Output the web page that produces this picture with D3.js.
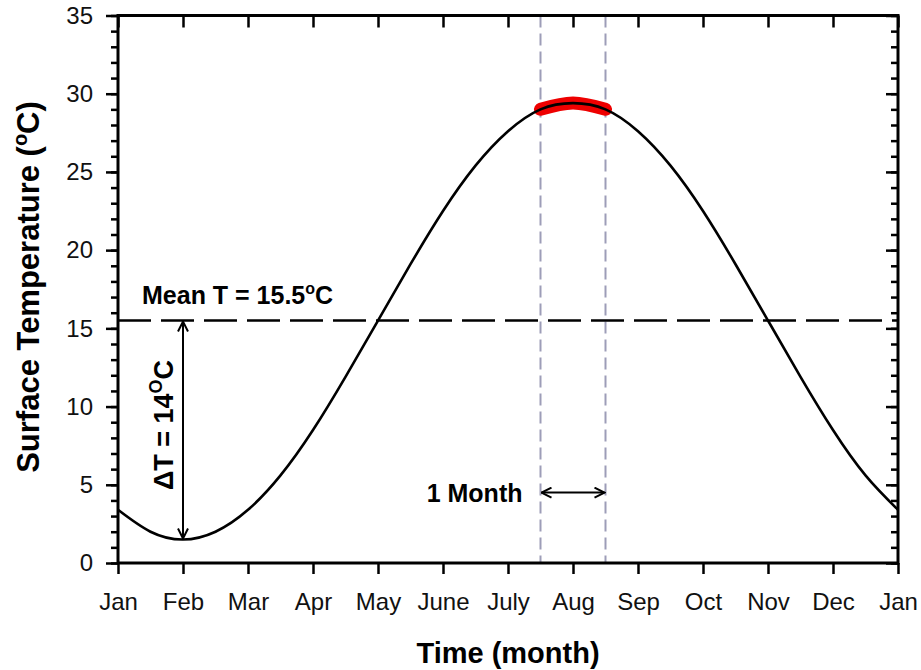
<!DOCTYPE html>
<html>
<head>
<meta charset="utf-8">
<script src="https://cdn.jsdelivr.net/npm/d3@7"></script>
<style>
  html, body { margin: 0; padding: 0; background: #fff; }
  svg { display: block; font-family: "Liberation Sans", Arial, sans-serif; }
</style>
</head>
<body>
<svg id="chart" width="921" height="670"></svg>
<script>
// Month tick labels (Jan at both ends of the year)
const monthLabels = ["Jan", "Feb", "Mar", "Apr", "May", "June", "July", "Aug", "Sep", "Oct", "Nov", "Dec", "Jan"];
// Time in months since 1 Jan, sampled every half month
const timeMonths = [0, 0.5, 1, 1.5, 2, 2.5, 3, 3.5, 4, 4.5, 5, 5.5, 6, 6.5, 7, 7.5, 8, 8.5, 9, 9.5, 10, 10.5, 11, 11.5, 12];
// Surface temperature (°C) at those times
const surfaceTemp = [3.4, 2.0, 1.5, 2.0, 3.4, 5.6, 8.5, 11.9, 15.5, 19.1, 22.5, 25.4, 27.6, 29.0, 29.4, 29.0, 27.6, 25.4, 22.5, 19.1, 15.5, 11.9, 8.5, 5.6, 3.4];
// Y axis tick values
const yTicks = [0, 5, 10, 15, 20, 25, 30, 35];
const yMinorTicks = d3.range(0, 36, 1);
// Annual mean and amplitude below it
const meanTemp = 15.5;
const deltaT = 14;
const minMonth = 1;
// Warmest-month window (mid-July to mid-August)
const windowStart = 6.5;
const windowEnd = 7.5;

const svg = d3.select("#chart");
const plotLeft = 118, plotRight = 898, plotTop = 15.5, plotBottom = 563;

const x = d3.scaleLinear().domain([0, 12]).range([plotLeft, plotRight]);
const y = d3.scaleLinear().domain([0, 35]).range([plotBottom, plotTop]);

const data = timeMonths.map((t, i) => ({ t, v: surfaceTemp[i] }));

// Arrow head marker (open V)
const defs = svg.append("defs");
defs.append("marker")
  .attr("id", "arrow")
  .attr("viewBox", "0 0 12 12")
  .attr("refX", 11).attr("refY", 6)
  .attr("markerWidth", 12).attr("markerHeight", 12)
  .attr("markerUnits", "userSpaceOnUse")
  .attr("orient", "auto-start-reverse")
  .append("path")
  .attr("d", "M1,1 L11,6 L1,11")
  .attr("fill", "none")
  .attr("stroke", "#000")
  .attr("stroke-width", 2);

// Vertical dashed guides marking the one-month window
svg.selectAll("line.guide")
  .data([windowStart, windowEnd])
  .join("line")
  .attr("class", "guide")
  .attr("x1", d => x(d)).attr("x2", d => x(d))
  .attr("y1", y(35)).attr("y2", y(0))
  .attr("stroke", "#9d9db8")
  .attr("stroke-width", 2)
  .attr("stroke-dasharray", "12,6");

// Mean temperature dashed line
svg.append("line")
  .attr("x1", x(0)).attr("x2", x(12))
  .attr("y1", y(meanTemp)).attr("y2", y(meanTemp))
  .attr("stroke", "#000")
  .attr("stroke-width", 2.5)
  .attr("stroke-dasharray", "33,10");

const line = d3.line()
  .x(d => x(d.t))
  .y(d => y(d.v))
  .curve(d3.curveNatural);

// Warmest month highlight
const peak = data.filter(d => d.t >= windowStart && d.t <= windowEnd);
svg.append("path")
  .datum(peak)
  .attr("d", line)
  .attr("fill", "none")
  .attr("stroke", "#ee0000")
  .attr("stroke-width", 13)
  .attr("stroke-linecap", "round");

// Annual temperature cycle
svg.append("path")
  .datum(data)
  .attr("d", line)
  .attr("fill", "none")
  .attr("stroke", "#000")
  .attr("stroke-width", 2.6);

// Amplitude arrow (mean down to the minimum)
svg.append("line")
  .attr("x1", x(minMonth)).attr("x2", x(minMonth))
  .attr("y1", y(meanTemp) + 1).attr("y2", y(meanTemp - deltaT) - 1)
  .attr("stroke", "#000")
  .attr("stroke-width", 2)
  .attr("marker-start", "url(#arrow)")
  .attr("marker-end", "url(#arrow)");

// One-month arrow
const monthArrowY = y(4.5);
svg.append("line")
  .attr("x1", x(windowStart) + 1).attr("x2", x(windowEnd) - 1)
  .attr("y1", monthArrowY).attr("y2", monthArrowY)
  .attr("stroke", "#000")
  .attr("stroke-width", 2)
  .attr("marker-start", "url(#arrow)")
  .attr("marker-end", "url(#arrow)");

// Frame and axes
const axisG = svg.append("g");

axisG.append("g")
  .attr("transform", `translate(0,${plotBottom})`)
  .call(d3.axisBottom(x).tickValues(d3.range(0, 13)).tickFormat(i => monthLabels[i]).tickSize(11).tickPadding(19));

axisG.append("g")
  .attr("transform", `translate(0,${plotTop})`)
  .call(d3.axisBottom(x).tickValues(d3.range(0, 13)).tickFormat("").tickSize(12));

axisG.append("g")
  .attr("transform", `translate(${plotLeft},0)`)
  .call(d3.axisLeft(y).tickValues(yMinorTicks).tickFormat("").tickSize(7));

axisG.append("g")
  .attr("transform", `translate(${plotLeft},0)`)
  .call(d3.axisLeft(y).tickValues(yTicks).tickSize(12).tickPadding(13));

axisG.append("g")
  .attr("transform", `translate(${plotRight},0)`)
  .call(d3.axisRight(y).tickValues(yMinorTicks).tickFormat("").tickSize(-7));

axisG.append("g")
  .attr("transform", `translate(${plotRight},0)`)
  .call(d3.axisRight(y).tickValues(yTicks).tickFormat("").tickSize(-12));

axisG.selectAll(".domain").remove();
axisG.selectAll(".tick line").attr("stroke", "#000").attr("stroke-width", 2.5);
axisG.selectAll(".tick text")
  .attr("fill", "#111")
  .style("font-size", "24px")
  .style("font-family", "'Liberation Sans', Arial, sans-serif");

axisG.append("rect")
  .attr("x", plotLeft).attr("y", plotTop)
  .attr("width", plotRight - plotLeft).attr("height", plotBottom - plotTop)
  .attr("fill", "none")
  .attr("stroke", "#000")
  .attr("stroke-width", 3);

// Axis titles
svg.append("text")
  .attr("x", (plotLeft + plotRight) / 2).attr("y", 663)
  .attr("text-anchor", "middle")
  .style("font-size", "29px").style("font-weight", "bold")
  .text("Time (month)");

const yTitle = svg.append("text")
  .attr("transform", `translate(39,287) rotate(-90)`)
  .attr("text-anchor", "middle")
  .style("font-size", "31px").style("font-weight", "bold");
yTitle.append("tspan").text("Surface Temperature (");
yTitle.append("tspan").attr("dy", -12).style("font-size", "20px").text("o");
yTitle.append("tspan").attr("dy", 12).text("C)");

// Annotations
const meanLabel = svg.append("text")
  .attr("x", 142).attr("y", y(meanTemp) - 17)
  .style("font-size", "25px").style("font-weight", "bold");
meanLabel.append("tspan").text("Mean T = " + meanTemp);
meanLabel.append("tspan").attr("dy", -10).style("font-size", "16px").text("o");
meanLabel.append("tspan").attr("dy", 10).text("C");

const dtLabel = svg.append("text")
  .attr("transform", `translate(173,425) rotate(-90)`)
  .attr("text-anchor", "middle")
  .style("font-size", "27px").style("font-weight", "bold");
dtLabel.append("tspan").text("\u0394T = " + deltaT);
dtLabel.append("tspan").attr("dy", -11).style("font-size", "18px").text("O");
dtLabel.append("tspan").attr("dy", 11).text("C");

svg.append("text")
  .attr("x", x(windowStart) - 18).attr("y", monthArrowY + 9)
  .attr("text-anchor", "end")
  .style("font-size", "25px").style("font-weight", "bold")
  .text("1 Month");
</script>
</body>
</html>
